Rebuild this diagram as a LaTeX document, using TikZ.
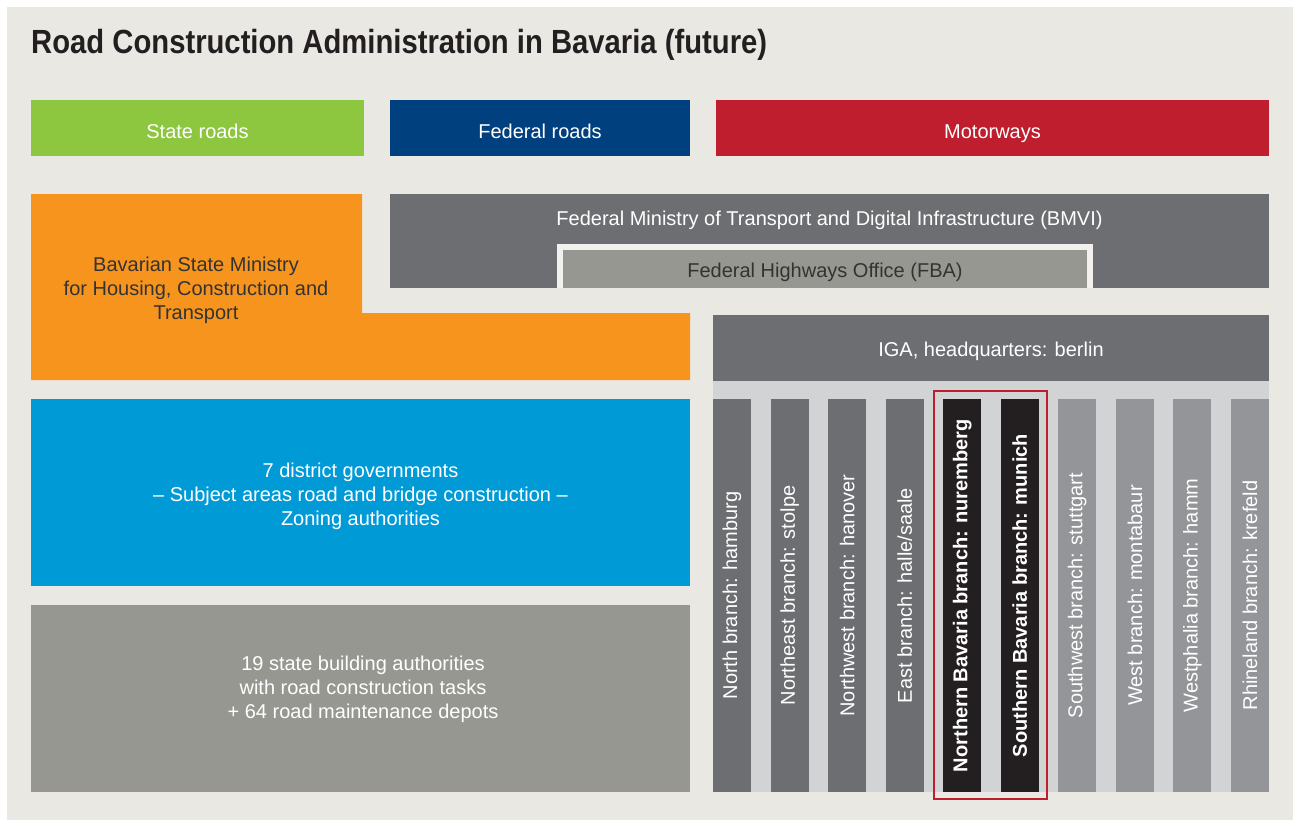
\documentclass[tikz,border=0pt]{standalone}
\usepackage{fontspec}
\setmainfont{Liberation Sans}
\usepackage{graphicx}
\definecolor{beige}{HTML}{EAE8E3}
\definecolor{cgreen}{HTML}{8DC63F}
\definecolor{cdblue}{HTML}{00407F}
\definecolor{cred}{HTML}{BE1E2D}
\definecolor{corange}{HTML}{F7941D}
\definecolor{cgray}{HTML}{6D6E71}
\definecolor{cstone}{HTML}{979791}
\definecolor{clblue}{HTML}{009AD7}
\definecolor{cband}{HTML}{D1D3D4}
\definecolor{cmid}{HTML}{939598}
\definecolor{cblack}{HTML}{231F20}
\definecolor{cdark}{HTML}{333333}
\begin{document}
\begin{tikzpicture}[x=1pt,y=-1pt,
  box/.style={draw=none, inner sep=0pt, outer sep=0pt, anchor=north west},
  txt/.style={inner sep=0pt, align=center, font=\fontsize{20}{24}\selectfont},
  line/.style={txt, anchor=base},
  bartxt/.style={inner sep=0pt, rotate=90, font=\fontsize{20}{24}\selectfont, text=white},
  barbox/.style={box, minimum width=38pt, minimum height=393pt},
  frame/.style={draw=cred, line width=2pt}
]
\useasboundingbox (0,0) rectangle (1293,820);
\fill[white] (0,0) rectangle (1293,820);
\fill[beige] (7,7) rectangle (1293,820);

\node[anchor=base west, inner sep=0pt, text=cblack] (title) at (31,53)
  {\resizebox{736pt}{\height}{\fontsize{33.5}{34}\selectfont\bfseries Road Construction Administration in Bavaria (future)}};

% top category bars
\node[box, fill=cgreen, minimum width=333pt, minimum height=56pt] (state) at (31,100) {};
\node[line, text=white] (statet) at (197.5,138) {State roads};
\node[box, fill=cdblue, minimum width=300pt, minimum height=56pt] (federal) at (390,100) {};
\node[line, text=white] (federalt) at (540,138) {Federal roads};
\node[box, fill=cred, minimum width=553pt, minimum height=56pt] (motor) at (716,100) {};
\node[line, text=white] (motort) at (992.5,138) {Motorways};

% BMVI and FBA
\node[box, fill=cgray, minimum width=879pt, minimum height=94pt] (bmvi) at (390,194) {};
\node[line, text=white] (bmvit) at (829.5,225) {Federal Ministry of Transport and Digital Infrastructure (BMVI)};
\fill[beige!60!white] (557,244) rectangle (1093,288);
\node[box, fill=cstone, minimum width=524pt, minimum height=38pt] (fba) at (563,250) {};
\node[line, text=cdark] (fbat) at (825,277) {Federal Highways Office (FBA)};

% Bavarian ministry (L-shape)
\fill[corange] (31,194) -- (362,194) -- (362,313) -- (690,313) -- (690,380) -- (31,380) -- cycle;
\node[txt, text=cdark] (bav) at (196,290) {Bavarian State Ministry\\for Housing, Construction and\\Transport};

% district governments
\node[box, fill=clblue, minimum width=659pt, minimum height=187pt] (district) at (31,399) {};
\node[txt, text=white] (districtt) at (360.5,496) {7 district governments\\– Subject areas road and bridge construction –\\Zoning authorities};

% state building authorities
\node[box, fill=cstone, minimum width=659pt, minimum height=187pt] (sba) at (31,605) {};
\node[txt, text=white] (sbat) at (363,689) {19 state building authorities\\with road construction tasks\\+ 64 road maintenance depots};

% IGA
\node[box, fill=cgray, minimum width=556pt, minimum height=66pt] (iga) at (713,315) {};
\node[line, text=white] (igat) at (991,356) {IGA, headquarters: berlin};
\node[box, fill=cband, minimum width=556pt, minimum height=411pt] (band) at (713,381) {};

% branches
\node[barbox, fill=cgray] (b1) at (713,399) {};
\node[bartxt] at (b1.center) {North branch: hamburg};
\node[barbox, fill=cgray] (b2) at (770.6,399) {};
\node[bartxt] at (b2.center) {Northeast branch: stolpe};
\node[barbox, fill=cgray] (b3) at (828.1,399) {};
\node[bartxt] at (b3.center) {Northwest branch: hanover};
\node[barbox, fill=cgray] (b4) at (885.7,399) {};
\node[bartxt] at (b4.center) {East branch: halle/saale};
\node[barbox, fill=cblack] (b5) at (943.2,399) {};
\node[bartxt, font=\fontsize{20}{24}\selectfont\bfseries] at (b5.center) {Northern Bavaria branch: nuremberg};
\node[barbox, fill=cblack] (b6) at (1000.8,399) {};
\node[bartxt, font=\fontsize{20}{24}\selectfont\bfseries] at (b6.center) {Southern Bavaria branch: munich};
\node[barbox, fill=cmid] (b7) at (1058.3,399) {};
\node[bartxt] at (b7.center) {Southwest branch: stuttgart};
\node[barbox, fill=cmid] (b8) at (1115.9,399) {};
\node[bartxt] at (b8.center) {West branch: montabaur};
\node[barbox, fill=cmid] (b9) at (1173.4,399) {};
\node[bartxt] at (b9.center) {Westphalia branch: hamm};
\node[barbox, fill=cmid] (b10) at (1231,399) {};
\node[bartxt] at (b10.center) {Rhineland branch: krefeld};

% Bavarian branches highlight
\draw[frame] (934,391) rectangle (1047,799);
\end{tikzpicture}
\end{document}
